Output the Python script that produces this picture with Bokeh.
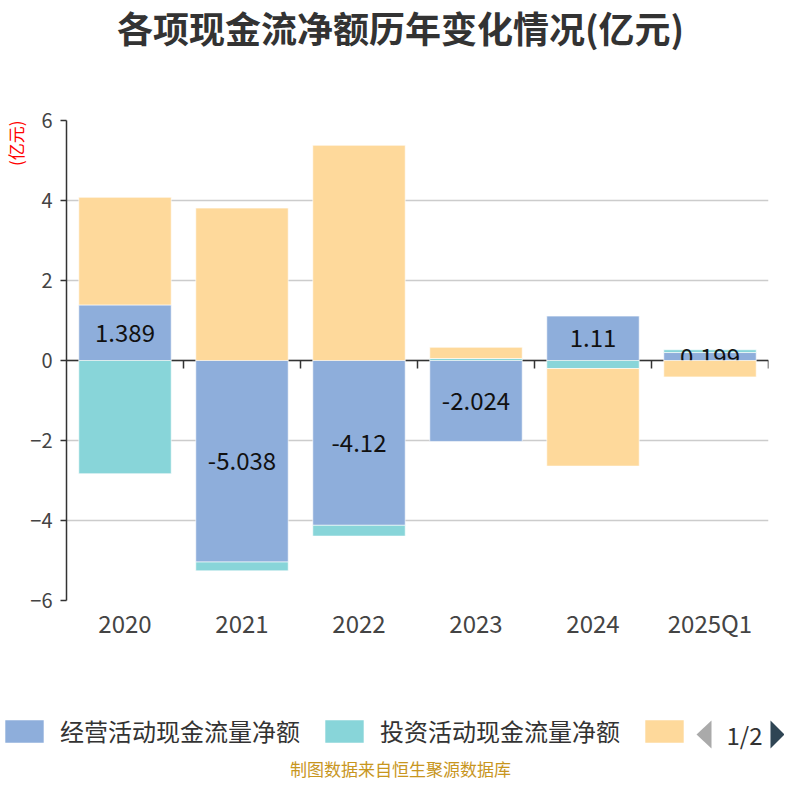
import numpy as np
from bokeh.plotting import figure
from bokeh.layouts import column
from bokeh.models import (ColumnDataSource, Range1d, FactorRange, Label, Legend, LegendItem, Title)
from bokeh.transform import dodge
from bokeh.core.properties import value
from bokeh.embed import file_html
from bokeh.resources import INLINE

categories = ["2020", "2021", "2022", "2023", "2024", "2025Q1"]
operating = [1.389, -5.038, -4.12, -2.024, 1.11, 0.199]
investing = [-2.83, -0.22, -0.27, 0.05, -0.2, 0.07]
financing = [2.69, 3.81, 5.38, 0.28, -2.44, -0.41]
series_names = ["经营活动现金流量净额", "投资活动现金流量净额", "筹资活动现金流量净额"]
legend_labels = ["经营活动现金流量净额", "投资活动现金流量净额", " "]
colors = ["#8eaedb", "#88d5d9", "#fed99b"]
y_ticks = [-6, -4, -2, 0, 2, 4, 6]
title_text = "各项现金流净额历年变化情况(亿元)"
y_unit = "(亿元)"
source_note = "制图数据来自恒生聚源数据库"
page_text = "1/2"

FONT = "Noto Sans CJK SC"
W = 784
TOP_H = 80
MAIN_H = 580
BOT_H = 784 - TOP_H - MAIN_H


def blank_fig(h):
    f = figure(width=W, height=h, x_range=Range1d(0, W), y_range=Range1d(h, 0),
               x_axis_location=None, y_axis_location=None, output_backend="svg",
               toolbar_location=None, min_border=0)
    f.outline_line_color = None
    f.grid.visible = False
    return f


# ---------- title strip ----------
top = blank_fig(TOP_H)
top.add_layout(Label(x=400, y=26, text=title_text, text_align="center", text_baseline="middle",
                     text_font=FONT, text_font_size="36px", text_font_style="bold",
                     text_color="#333333"))

# ---------- main chart ----------
p = figure(x_range=FactorRange(*categories, range_padding=0), y_range=Range1d(-6, 6),
           width=W, height=MAIN_H, output_backend="svg", toolbar_location=None,
           min_border_left=63, min_border_right=16, min_border_top=40, min_border_bottom=60)
p.outline_line_color = None
p.xgrid.grid_line_color = None
p.ygrid.grid_line_color = "#cccccc"
p.ygrid.grid_line_width = 1.3
p.yaxis.ticker = y_ticks
p.yaxis.axis_line_color = "#333333"
p.yaxis.axis_line_width = 1.5
p.yaxis.major_tick_line_color = "#333333"
p.yaxis.major_tick_line_width = 1.5
p.yaxis.major_tick_out = 6
p.yaxis.major_tick_in = 0
p.yaxis.minor_tick_line_color = None
p.yaxis.major_label_text_font_size = "20px"
p.yaxis.major_label_text_color = "#444444"
p.yaxis.major_label_text_font = FONT
p.yaxis.major_label_standoff = 8
p.xaxis.axis_line_color = None
p.xaxis.major_tick_line_color = None
p.xaxis.major_tick_out = 0
p.xaxis.major_tick_in = 0
p.xaxis.minor_tick_line_color = None
p.xaxis.major_label_text_font_size = "24px"
p.xaxis.major_label_text_color = "#444444"
p.xaxis.major_label_text_font = FONT
p.xaxis.major_label_standoff = 4

p.add_layout(Title(text=y_unit, align="right", text_font=FONT, text_font_size="17px",
                   text_font_style="normal", text_color="red", standoff=0), "left")

# zero line (drawn below the bars)
p.hspan(y=[0], line_color="#333333", line_width=1.5)
tick_src = ColumnDataSource(dict(cat=categories))
p.segment(x0=dodge("cat", 0.5, range=p.x_range), x1=dodge("cat", 0.5, range=p.x_range),
          y0=0, y1=-0.2, line_color="#333333", line_width=1.5, source=tick_src)

pos = np.zeros(len(categories))
neg = np.zeros(len(categories))
label_src = None
for name, vals, col in zip(series_names, [operating, investing, financing], colors):
    v = np.array(vals, dtype=float)
    bottom = np.where(v >= 0, pos, neg)
    top_ = bottom + v
    pos = np.where(v >= 0, top_, pos)
    neg = np.where(v < 0, top_, neg)
    src = ColumnDataSource(dict(cat=categories, bottom=bottom, top=top_,
                                mid=(bottom + top_) / 2, label=[str(x) for x in vals]))
    p.vbar(x="cat", bottom="bottom", top="top", width=0.79, source=src,
           fill_color=col, line_color="white", line_alpha=0.6, line_width=1)
    if label_src is None:
        label_src = src
    if name == series_names[1]:
        p.text(x="cat", y="mid", text="label", source=label_src, text_align="center",
               text_baseline="middle", text_font=value(FONT), text_font_size="24px",
               text_color="#111111")

# ---------- legend / pager / source strip ----------
bot = blank_fig(BOT_H)
dummy = []
for col in colors:
    dummy.append(bot.vbar(x=[-1000], bottom=[0], top=[0], width=1, fill_color=col, line_color=None))
legend = Legend(items=[LegendItem(label=lab, renderers=[r]) for lab, r in zip(legend_labels, dummy)],
                orientation="horizontal", location=(0, BOT_H - 88))
legend.glyph_width = 48
legend.glyph_height = 28
legend.label_standoff = 12
legend.spacing = 20
legend.padding = 0
legend.margin = 0
legend.border_line_color = None
legend.background_fill_alpha = 0
legend.label_text_font = FONT
legend.label_text_font_size = "24px"
legend.label_text_color = "#333333"
bot.add_layout(legend, "center")

# pager arrows
bot.patches(xs=[[696, 711, 711], [770, 770, 784]], ys=[[74, 60, 88], [60, 88, 74]],
            fill_color=["#aaaaaa", "#2f4554"], line_color=None)
bot.add_layout(Label(x=744, y=74, text=page_text, text_align="center", text_baseline="middle",
                     text_font=FONT, text_font_size="24px", text_color="#333333"))
bot.add_layout(Label(x=400, y=108, text=source_note, text_align="center", text_baseline="middle",
                     text_font=FONT, text_font_size="17px", text_color="#c8961e"))

layout = column(column(top), p, column(bot), spacing=0)
open("out.html", "w").write(file_html(layout, INLINE))
